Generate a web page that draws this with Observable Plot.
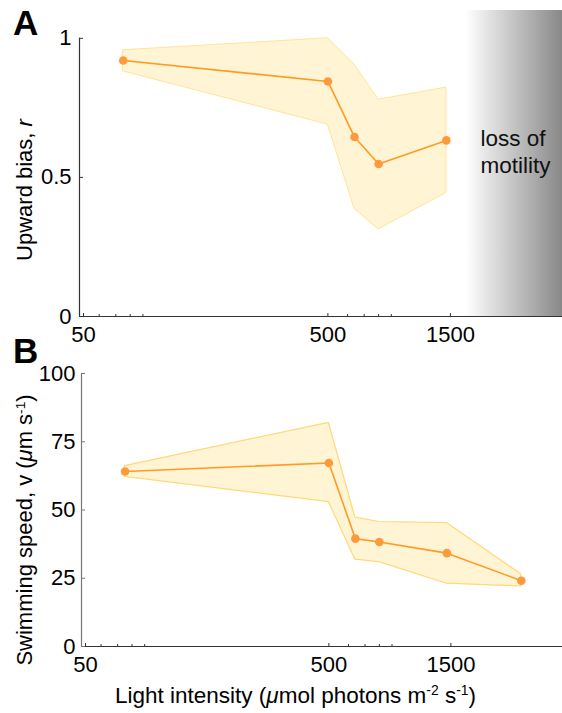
<!DOCTYPE html>
<html><head><meta charset="utf-8">
<script src="https://cdn.jsdelivr.net/npm/d3@7"></script>
<script src="https://cdn.jsdelivr.net/npm/@observablehq/plot@0.6"></script>
<style>
body{margin:0;background:#fff;font-family:"Liberation Sans",Arial,sans-serif;}
#wrap{position:relative;width:562px;height:713px;overflow:hidden;}
.panel{position:absolute;left:0;}
.lab{position:absolute;font-size:22px;line-height:22px;white-space:nowrap;color:#000;text-align:center;}
.rot{transform:rotate(-90deg);transform-origin:center center;width:400px;}
.xl{text-align:left;font-size:22.5px;}
.big{position:absolute;font-size:35px;font-weight:bold;line-height:35px;color:#000;}
sup{font-size:0.62em;vertical-align:baseline;position:relative;top:-0.55em;line-height:0;}
</style></head><body>
<div id="wrap"></div>
<script>
// ---- data ----
const lightA = [75, 500, 640, 800, 1500];
const biasMean = [0.92, 0.845, 0.645, 0.548, 0.633];
const biasLow  = [0.881, 0.690, 0.387, 0.313, 0.444];
const biasHigh = [0.957, 1.0, 0.905, 0.779, 0.823];

const lightB = [75, 500, 640, 800, 1500, 3000];
const speedMean = [64.1, 67.2, 39.5, 38.3, 34.2, 24.1];
const speedLow  = [62.1, 52.9, 31.8, 30.9, 23.0, 22.0];
const speedHigh = [66.1, 81.9, 47.2, 45.6, 45.2, 26.4];

const xTicksCentered = [500];
const xTicksShifted = [50, 1500];
const xMinorTicks = [60, 70, 80, 90, 600, 700, 800, 900];
const yTicksA = [0, 0.5, 1];
const yTicksB = [0, 25, 50, 75, 100];
const xDomain = [50, 4400];
const motilityLoss = [{x1: 1800, x2: 4400}];
const motilityNote = ["loss of\nmotility"];

const dataA = lightA.map((x, i) => ({x, m: biasMean[i], lo: biasLow[i], hi: biasHigh[i]}));
const dataB = lightB.map((x, i) => ({x, m: speedMean[i], lo: speedLow[i], hi: speedHigh[i]}));

const font = "Liberation Sans, Arial, sans-serif";
const fmt = d => String(d);
const orange = "#ff9a22";
const dotFill = "#ff9a3c";

function xAxes() {
  return [
    Plot.axisX(xMinorTicks, {tickSize: -2, text: () => "", label: null, stroke: "#333"}),
    Plot.axisX(xTicksCentered, {tickSize: -3, tickPadding: 13, text: fmt, label: null, fontSize: 22, stroke: "#333", fill: "#000"}),
    Plot.axisX(xTicksShifted, {tickSize: -3, tickPadding: 13, text: fmt, label: null, fontSize: 22, stroke: "#333", fill: "#000", dx: 4})
  ];
}

const svgA = Plot.plot({
  width: 562, height: 350,
  marginLeft: 79, marginRight: 0, marginTop: 10, marginBottom: 34,
  style: {fontFamily: font, fontSize: "22px", color: "#000", background: "transparent", overflow: "visible"},
  x: {type: "log", domain: xDomain},
  y: {domain: [0, 1.1], label: null},
  marks: [
    Plot.rect(motilityLoss, {x1: "x1", x2: "x2", y1: 0, y2: 1.1, fill: "url(#motGrad)"}),
    Plot.areaY(dataA, {x: "x", y1: "lo", y2: "hi", fill: "#fff4d4", stroke: "#ffe49a", strokeWidth: 1}),
    Plot.line(dataA, {x: "x", y: "m", stroke: orange, strokeWidth: 1.6}),
    Plot.dot(dataA, {x: "x", y: "m", r: 4.3, fill: dotFill}),
    Plot.ruleX([50], {y1: 0, y2: 1, stroke: "#333", strokeWidth: 1.2}),
    Plot.ruleY([0], {stroke: "#333", strokeWidth: 1.2}),
    Plot.axisY(yTicksA, {tickSize: -4, tickPadding: 12, text: fmt, label: null, fontSize: 22, stroke: "#333", fill: "#000"}),
    ...xAxes(),
    Plot.text(motilityNote, {frameAnchor: "right", dx: -82, dy: -37, textAnchor: "start", lineAnchor: "top", lineHeight: 1.2, fontSize: 22.5, fill: "#111"})
  ]
});
d3.select(svgA).insert("defs", ":first-child").html(
  '<linearGradient id="motGrad" x1="0" x2="1" y1="0" y2="0"><stop offset="0" stop-color="#ffffff"/><stop offset="1" stop-color="#888888"/></linearGradient>'
);

const svgB = Plot.plot({
  width: 562, height: 363,
  marginLeft: 81, marginRight: 0, marginTop: 23, marginBottom: 67,
  style: {fontFamily: font, fontSize: "22px", color: "#000", background: "transparent", overflow: "visible"},
  x: {type: "log", domain: xDomain},
  y: {domain: [0, 100], label: null},
  marks: [
    Plot.areaY(dataB, {x: "x", y1: "lo", y2: "hi", fill: "#fff4d4", stroke: "#ffd978", strokeWidth: 1.2}),
    Plot.line(dataB, {x: "x", y: "m", stroke: orange, strokeWidth: 1.6}),
    Plot.dot(dataB, {x: "x", y: "m", r: 4.3, fill: dotFill}),
    Plot.ruleX([50], {y1: 0, y2: 100, stroke: "#777", strokeWidth: 1.2}),
    Plot.ruleY([0], {stroke: "#333", strokeWidth: 1.2}),
    Plot.axisY(yTicksB, {tickSize: -4, tickPadding: 10, text: fmt, label: null, fontSize: 22, stroke: "#777", fill: "#000"}),
    ...xAxes()
  ]
});

const wrap = document.getElementById("wrap");
svgA.classList.add("panel"); svgA.style.top = "0px";
svgB.classList.add("panel"); svgB.style.top = "350px";
wrap.appendChild(svgA);
wrap.appendChild(svgB);

function addLabel(html, cls, left, top) {
  const d = document.createElement("div");
  d.className = cls;
  d.innerHTML = html;
  d.style.left = left + "px";
  d.style.top = top + "px";
  wrap.appendChild(d);
}
addLabel("A", "big", 13, 5.4);
addLabel("B", "big", 13, 333.4);
addLabel('Upward bias, <i>r</i>', "lab rot", 25.4 - 200, 190 - 11);
addLabel('Swimming speed, v (<i>&mu;</i>m s<sup>-1</sup>)', "lab rot", 25.4 - 200, 530 - 11);
addLabel('Light intensity (<i>&mu;</i>mol photons m<sup>-2</sup> s<sup>-1</sup>)', "lab xl", 115, 685);
</script>
</body></html>
